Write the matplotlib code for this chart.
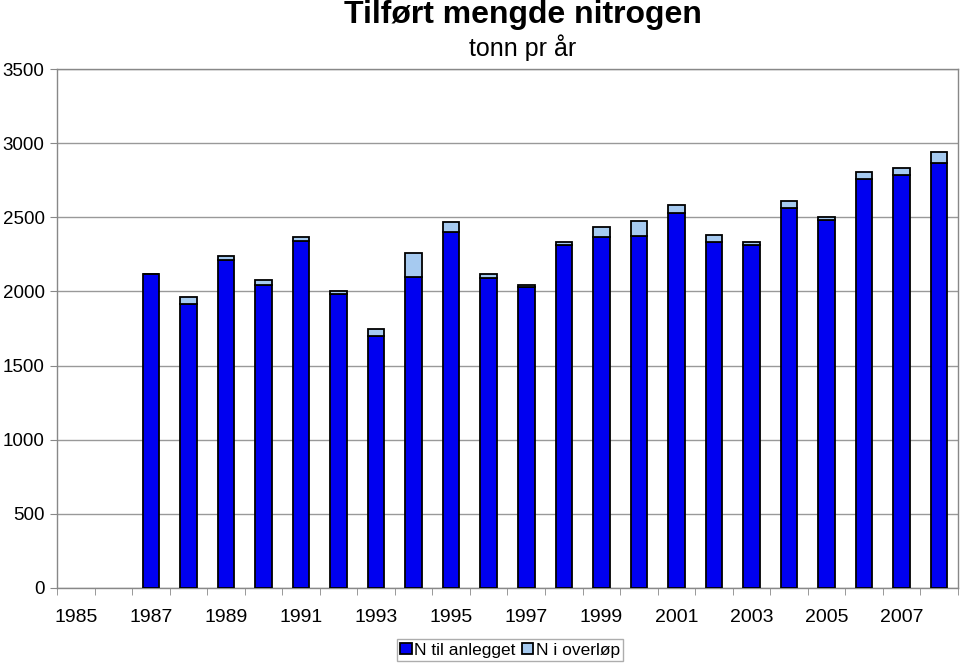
import numpy as np
import matplotlib.pyplot as plt

plt.rcParams['font.family'] = ['Liberation Sans', 'DejaVu Sans']

years = list(range(1985, 2009))
# N til anlegget (tonn), 1985-1986 missing
n_anlegget = [0, 0, 2120, 1915, 2210, 2040, 2340, 1980, 1700, 2100, 2400, 2090,
              2030, 2310, 2365, 2375, 2530, 2330, 2310, 2560, 2480, 2755, 2785, 2865]
# N i overløp (tonn)
n_overlop = [0, 0, 0, 45, 28, 35, 30, 22, 45, 157, 70, 25,
             12, 23, 67, 102, 50, 52, 25, 48, 25, 53, 47, 77]
tick_years = [str(y) if y % 2 == 1 else '' for y in years]

fig = plt.figure(figsize=(9.6, 6.63), dpi=100)
ax = fig.add_axes([57/960, 1 - 588/663, 901/960, 519/663])

x = np.arange(len(years))
has = np.array(n_anlegget) > 0
ax.bar(x[has], np.array(n_anlegget)[has], width=0.44, color='#0000F0',
       edgecolor='black', linewidth=1.3, label='N til anlegget', zorder=3)
ax.bar(x[has], np.array(n_overlop)[has], width=0.44, bottom=np.array(n_anlegget)[has],
       color='#A6CAF0', edgecolor='black', linewidth=1.3, label='N i overløp', zorder=3)

ax.set_xlim(-0.5, len(years) - 0.5)
ax.set_ylim(0, 3500)
ax.set_yticks(np.arange(0, 3501, 500))
ax.yaxis.grid(True, color='#999999', linewidth=1)
ax.set_axisbelow(True)

ax.set_xticks(x)
ax.set_xticklabels(tick_years, fontsize=14)
ax.tick_params(axis='x', length=0, pad=15)
ax.set_xticks(np.arange(-0.5, len(years)), minor=True)
ax.tick_params(axis='x', which='minor', length=5, color='#888888', direction='out')
ax.tick_params(axis='y', labelsize=13.5, length=5, color='#888888', pad=4)

for s in ax.spines.values():
    s.set_color('#888888')
    s.set_linewidth(1)

fig.text(523/960, 1 - 15/663, 'Tilført mengde nitrogen', ha='center', va='center',
         fontsize=23, fontweight='bold')
fig.text(523/960, 1 - 48/663, 'tonn pr år', ha='center', va='center', fontsize=18)

fig.legend(loc='center', bbox_to_anchor=(510/960, 1 - 650/663), ncol=2, fontsize=12.5,
           frameon=True, fancybox=False, edgecolor='#999999', handlelength=0.65,
           handleheight=0.65, handletextpad=0.15, columnspacing=0.35, borderpad=0.2,
           borderaxespad=0)

fig.savefig('out.png', dpi=100)
